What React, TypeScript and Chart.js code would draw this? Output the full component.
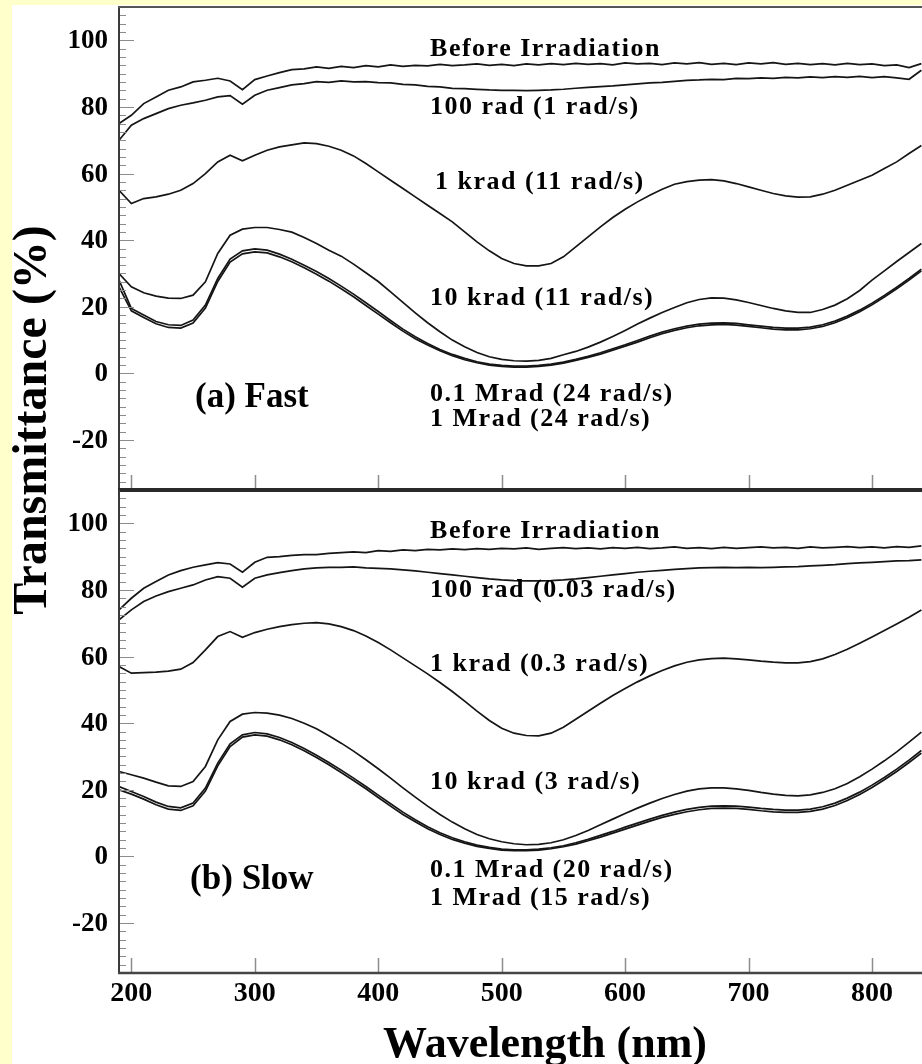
import React, { useEffect, useRef } from "react";
import { Chart, registerables } from "chart.js";

Chart.register(...registerables);

// ---------- data ----------
const WAVELENGTHS = [
  190, 200, 210, 220, 230, 240, 250, 260, 270, 280,
  290, 300, 310, 320, 330, 340, 350, 360, 370, 380,
  390, 400, 410, 420, 430, 440, 450, 460, 470, 480,
  490, 500, 510, 520, 530, 540, 550, 560, 570, 580,
  590, 600, 610, 620, 630, 640, 650, 660, 670, 680,
  690, 700, 710, 720, 730, 740, 750, 760, 770, 780,
  790, 800, 810, 820, 830, 840,
];

const FAST_BEFORE = [
  75, 77.5, 81, 83, 85, 86, 87.5, 88, 88.6, 87.8,
  85.2, 88.2, 89.3, 90.3, 91.2, 91.4, 92, 91.6, 92.2, 91.8,
  92.4, 92, 92.6, 92.2, 92.5, 92.3, 92.8, 92.4, 92.6, 92.9,
  92.5, 92.8, 92.4, 92.9, 92.6, 93, 92.7, 93.1, 92.8, 93,
  92.6, 93.2, 92.9, 93.1, 92.7, 93.2, 92.9, 93.3, 92.8, 93.1,
  92.7, 93.2, 92.9, 93.3, 92.8, 93.1, 92.7, 93, 92.6, 93.1,
  92.7, 92.9, 92.4, 92.6, 91.8, 93,
];
const FAST_100RAD = [
  70, 74.5, 76.5, 78, 79.5, 80.5, 81.2, 82, 83, 83.4,
  80.8, 83.5, 85, 85.8, 86.6, 87, 87.6, 87.4, 87.8, 87.5,
  87.6, 87.3, 87.2, 86.8, 86.6, 86.2, 86, 85.6, 85.5, 85.3,
  85.1, 85, 85, 84.9, 85, 85.1, 85.3, 85.6, 85.9, 86.1,
  86.3, 86.6, 86.9, 87.2, 87.4, 87.7, 88, 88.1, 88.3, 88.2,
  88.6, 88.5, 88.7, 88.6, 88.9, 88.7, 89, 88.8, 89.1, 88.9,
  89.2, 88.8, 89.1, 88.7, 88.3, 91,
];
const FAST_1KRAD = [
  55, 51, 52.5, 53, 53.8, 55, 57, 60, 63.5, 65.5,
  63.8, 65.5, 67, 68, 68.6, 69.2, 69, 68.2, 67, 65.3,
  63, 60.5, 58, 55.5, 53, 50.5, 48, 45.5, 42.5, 39.5,
  36.8, 34.5, 33, 32.3, 32.3, 33, 35, 38, 41, 44,
  46.8, 49.3, 51.5, 53.5, 55.3, 56.8, 57.6, 58, 58.2, 57.8,
  57, 56, 55, 54, 53.3, 52.9, 53, 53.8, 55, 56.5,
  58, 59.5, 61.5, 63.5, 66, 68.4,
];
const FAST_10KRAD = [
  30, 26, 24.2, 23.2, 22.6, 22.5, 23.5, 27.5, 36, 41.5,
  43.3, 43.8, 43.8, 43.2, 42.4, 40.8, 39, 37, 35.2, 32.8,
  30.2, 27.6, 24.5, 21.3, 18.2, 15.2, 12.5, 10, 8, 6.3,
  5, 4.2, 3.8, 3.7, 3.9, 4.5, 5.6, 6.6, 7.9, 9.4,
  11.1, 12.9, 14.8, 16.6, 18.3, 19.8, 21.2, 22.2, 22.7, 22.6,
  22.1, 21.3, 20.4, 19.5, 18.8, 18.3, 18.3, 19.2, 20.5, 22.4,
  24.9, 28, 30.8, 33.6, 36.3, 39,
];
const FAST_01MRAD = [
  28, 19.5, 17.5, 15.6, 14.6, 14.4, 16, 20.5, 28.5, 34.3,
  36.8, 37.4, 37, 35.8, 34.3, 32.5, 30.6, 28.5, 26.2, 23.8,
  21.2, 18.6, 15.9, 13.3, 11, 9, 7.2, 5.7, 4.5, 3.5,
  2.8, 2.4, 2.2, 2.2, 2.4, 2.8, 3.4, 4.2, 5.1, 6.2,
  7.4, 8.6, 9.9, 11.2, 12.4, 13.4, 14.2, 14.8, 15.1, 15.2,
  15, 14.6, 14.2, 13.8, 13.6, 13.6, 13.9, 14.6, 15.7, 17.2,
  19, 21.1, 23.4, 25.9, 28.5, 31.3,
];
const FAST_1MRAD = [
  26, 18.8, 16.8, 14.9, 13.8, 13.6, 15.1, 19.6, 27.6, 33.4,
  35.9, 36.5, 36.2, 35, 33.5, 31.7, 29.8, 27.7, 25.4, 23,
  20.4, 17.8, 15.2, 12.7, 10.4, 8.5, 6.8, 5.3, 4.1, 3.2,
  2.5, 2.1, 1.9, 1.9, 2.1, 2.5, 3.1, 3.9, 4.8, 5.8,
  7, 8.2, 9.4, 10.7, 11.9, 12.9, 13.7, 14.3, 14.6, 14.7,
  14.5, 14.1, 13.7, 13.3, 13.1, 13.1, 13.4, 14.1, 15.2, 16.7,
  18.5, 20.6, 22.9, 25.4, 28, 30.8,
];

const SLOW_BEFORE = [
  74, 77.5, 80.5, 82.5, 84.5, 85.8, 86.8, 87.5, 88.2, 87.8,
  85.3, 88.3, 89.8, 90, 90.4, 90.6, 90.6, 91, 91.2, 91.4,
  91.2, 91.8, 91.6, 92, 91.8, 92.2, 92, 92.3, 92.1, 92.4,
  92.2, 92.5, 92.3, 92.6, 92.2, 92.5, 92.7, 92.4, 92.6, 92.3,
  92.7, 92.5, 92.8, 92.4, 92.6, 92.9, 92.5, 92.7, 92.4, 92.8,
  92.5, 92.7, 92.9, 92.6, 92.8, 92.5, 92.9, 92.6, 92.8, 93,
  92.7, 92.9, 92.6, 93, 92.8, 93.2,
];
const SLOW_100RAD = [
  71, 74, 76.5, 78.2, 79.5, 80.5, 81.5, 83, 84, 83.5,
  80.8, 83.5, 84.5, 85.2, 85.8, 86.3, 86.6, 86.8, 86.8, 86.9,
  86.6, 86.5, 86.3, 86, 85.7, 85.3, 84.9, 84.5, 84.1, 83.7,
  83.3, 83, 82.8, 82.7, 82.7, 82.8, 83, 83.3, 83.7, 84.1,
  84.5, 84.9, 85.3, 85.6, 85.9, 86.2, 86.4, 86.6, 86.7, 86.8,
  86.7, 86.8, 86.7, 86.8, 86.9, 87, 87.2, 87.4, 87.6, 87.9,
  88.1, 88.3, 88.5, 88.7, 88.8, 89,
];
const SLOW_1KRAD = [
  57, 55, 55.2, 55.3, 55.6, 56.2, 58.2, 62, 66, 67.5,
  65.8, 67.2, 68.2, 69, 69.6, 70, 70.2, 69.8, 69, 67.8,
  66.2, 64.2, 62, 59.6, 57.2, 54.8, 52.2, 49.5, 46.6, 43.6,
  40.8, 38.5, 37, 36.3, 36.2, 37, 38.8, 41.2, 43.6, 46,
  48.3, 50.4, 52.4, 54.2, 55.8, 57.2, 58.3, 59, 59.4, 59.5,
  59.3, 59, 58.6, 58.3, 58.1, 58.1, 58.5, 59.3, 60.6, 62.2,
  64, 65.9, 67.8, 69.8, 71.8, 74,
];
const SLOW_10KRAD = [
  25.5, 24.5, 23.5, 22.3, 21.2, 21, 22.5, 27, 35, 40.5,
  42.7, 43.2, 43, 42.4, 41.4, 40, 38.3, 36.2, 34, 31.6,
  29, 26.3, 23.5, 20.6, 17.8, 15.1, 12.6, 10.3, 8.3, 6.6,
  5.3, 4.4, 3.8, 3.5, 3.6, 4.1, 5, 6.3, 7.8, 9.5,
  11.2, 12.9, 14.5, 16, 17.4, 18.6, 19.6, 20.3, 20.6, 20.6,
  20.3, 19.8, 19.2, 18.7, 18.3, 18.2, 18.5, 19.2, 20.3, 21.9,
  23.9, 26.2, 28.7, 31.4, 34.3, 37.3,
];
const SLOW_01MRAD = [
  21, 19.5, 18, 16.3, 15, 14.6, 16, 20.5, 28, 33.8,
  36.5, 37.2, 36.8, 35.7, 34.2, 32.4, 30.4, 28.2, 25.9, 23.5,
  21, 18.4, 15.8, 13.3, 11, 8.9, 7.1, 5.6, 4.4, 3.4,
  2.7, 2.2, 2, 2, 2.2, 2.6, 3.2, 4.1, 5.1, 6.3,
  7.5, 8.8, 10, 11.2, 12.3, 13.3, 14.1, 14.7, 15.1, 15.2,
  15.1, 14.8, 14.4, 14.1, 13.9, 13.9, 14.2, 14.9, 16, 17.5,
  19.3, 21.4, 23.7, 26.2, 28.9, 31.8,
];
const SLOW_1MRAD = [
  20, 18.7, 17.2, 15.5, 14.2, 13.8, 15.2, 19.6, 27.2, 33,
  35.8, 36.5, 36.1, 35, 33.5, 31.7, 29.7, 27.5, 25.2, 22.8,
  20.3, 17.7, 15.1, 12.6, 10.4, 8.3, 6.6, 5.1, 4, 3,
  2.4, 1.9, 1.7, 1.7, 1.9, 2.3, 2.9, 3.7, 4.7, 5.8,
  7, 8.2, 9.4, 10.6, 11.7, 12.6, 13.4, 14, 14.4, 14.5,
  14.4, 14.1, 13.7, 13.4, 13.2, 13.2, 13.5, 14.2, 15.3, 16.8,
  18.6, 20.7, 23, 25.5, 28.2, 31,
];

const FAST_LABELS = [
  "Before Irradiation",
  "100 rad (1 rad/s)",
  "1 krad (11 rad/s)",
  "10 krad (11 rad/s)",
  "0.1 Mrad (24 rad/s)",
  "1 Mrad (24 rad/s)",
];
const SLOW_LABELS = [
  "Before Irradiation",
  "100 rad (0.03 rad/s)",
  "1 krad (0.3 rad/s)",
  "10 krad (3 rad/s)",
  "0.1 Mrad (20 rad/s)",
  "1 Mrad (15 rad/s)",
];
const FAST_TAG = "(a) Fast";
const SLOW_TAG = "(b) Slow";

const Y_TICKS = [-20, 0, 20, 40, 60, 80, 100];
const X_TICKS = [200, 300, 400, 500, 600, 700, 800];
const Y_TITLE = "Transmittance (%)";
const X_TITLE = "Wavelength (nm)";

// ---------- layout / style (not data) ----------
const X_MIN = 190;
const X_MAX = 840.5;
const Y_MIN = -35;
const Y_MAX = 110;
const MINOR_STEP = 2.5;
const FONT = '"Liberation Serif", "Times New Roman", serif';
const LINE_COLOR = "#151515";

// annotation anchor points in data coordinates [wavelength, value]
const FAST_LABEL_POS = [
  [442, 97.3], [442, 79.8], [446, 57.3], [442, 22.7], [442, -6.2], [442, -13.7],
];
const SLOW_LABEL_POS = [
  [442, 97.6], [442, 79.9], [442, 57.7], [442, 22.2], [442, -4.2], [442, -12.6],
];
const FAST_TAG_POS = [251.6, -7.4];
const SLOW_TAG_POS = [247.6, -7.2];

type PanelCfg = {
  series: number[][];
  labels: string[];
  labelPos: number[][];
  tag: string;
  tagPos: number[];
  isTop: boolean;
  padding: { left: number; right: number; top: number; bottom: number };
};

function line(ctx: CanvasRenderingContext2D, x1: number, y1: number, x2: number, y2: number) {
  ctx.beginPath();
  ctx.moveTo(x1, y1);
  ctx.lineTo(x2, y2);
  ctx.stroke();
}

function makePlugin(cfg: PanelCfg) {
  return {
    id: "panelDecor",
    afterDatasetsDraw(chart: any) {
      const ctx: CanvasRenderingContext2D = chart.ctx;
      const a = chart.chartArea;
      const xs = chart.scales.x;
      const ys = chart.scales.y;
      ctx.save();

      // y ticks (inside)
      ctx.strokeStyle = "#8c8c8c";
      ctx.lineWidth = 1;
      for (let v = Y_MIN + MINOR_STEP; v < Y_MAX; v += MINOR_STEP) {
        const y = Math.round(ys.getPixelForValue(v)) + 0.5;
        const len = Y_TICKS.includes(v) ? 15 : 7;
        line(ctx, a.left, y, a.left + len, y);
      }
      // x ticks (inside, at bottom of panel)
      ctx.lineWidth = 1.5;
      for (const t of X_TICKS) {
        const x = Math.round(xs.getPixelForValue(t)) + 0.5;
        line(ctx, x, a.bottom, x, a.bottom - 15);
      }

      // frame
      ctx.strokeStyle = "#3a3a3a";
      ctx.lineWidth = 2;
      line(ctx, a.left, a.top - 1, a.left, a.bottom + 1);
      if (cfg.isTop) {
        ctx.strokeStyle = "#555";
        ctx.lineWidth = 2;
        line(ctx, a.left - 1, a.top, a.right, a.top);
        ctx.strokeStyle = "#2a2a2a";
        ctx.lineWidth = 4;
        line(ctx, a.left - 1, a.bottom, a.right, a.bottom);
      } else {
        ctx.strokeStyle = "#444";
        ctx.lineWidth = 2.5;
        line(ctx, a.left - 1, a.bottom, a.right, a.bottom);
      }

      ctx.fillStyle = "#000";
      // y tick labels
      ctx.font = `bold 27px ${FONT}`;
      ctx.textAlign = "right";
      ctx.textBaseline = "middle";
      for (const v of Y_TICKS) {
        ctx.fillText(String(v), a.left - 11, ys.getPixelForValue(v) + 1);
      }

      // curve annotations
      ctx.textAlign = "left";
      (ctx as any).letterSpacing = "1.5px";
      ctx.font = `bold 26px ${FONT}`;
      cfg.labels.forEach((txt, i) => {
        const p = cfg.labelPos[i];
        ctx.fillText(txt, xs.getPixelForValue(p[0]), ys.getPixelForValue(p[1]));
      });
      (ctx as any).letterSpacing = "0px";
      ctx.font = `bold 35px ${FONT}`;
      ctx.fillText(cfg.tag, xs.getPixelForValue(cfg.tagPos[0]), ys.getPixelForValue(cfg.tagPos[1]));

      if (cfg.isTop) {
        // y-axis title spanning both panels
        ctx.save();
        ctx.translate(22, 415);
        ctx.rotate(-Math.PI / 2);
        ctx.font = `bold 48px ${FONT}`;
        ctx.textAlign = "center";
        ctx.textBaseline = "middle";
        ctx.fillText(Y_TITLE, 0, 0);
        ctx.restore();
      } else {
        ctx.font = `bold 28px ${FONT}`;
        ctx.textAlign = "center";
        ctx.textBaseline = "middle";
        for (const t of X_TICKS) {
          ctx.fillText(String(t), xs.getPixelForValue(t), a.bottom + 21);
        }
        ctx.font = `bold 44px ${FONT}`;
        ctx.textBaseline = "alphabetic";
        ctx.fillText(X_TITLE, 533, 567);
      }
      ctx.restore();
    },
  };
}

function buildConfig(cfg: PanelCfg): any {
  return {
    type: "line",
    data: {
      datasets: cfg.series.map((s) => ({
        data: WAVELENGTHS.map((x, i) => ({ x, y: s[i] })),
        borderColor: LINE_COLOR,
        borderWidth: 1.7,
        pointRadius: 0,
        tension: 0,
        fill: false,
      })),
    },
    options: {
      responsive: false,
      animation: false,
      events: [],
      layout: { padding: cfg.padding },
      plugins: { legend: { display: false }, tooltip: { enabled: false } },
      scales: {
        x: { type: "linear", min: X_MIN, max: X_MAX, display: false },
        y: { type: "linear", min: Y_MIN, max: Y_MAX, display: false },
      },
    },
    plugins: [makePlugin(cfg)],
  };
}

export default function App() {
  const topRef = useRef<HTMLCanvasElement>(null);
  const botRef = useRef<HTMLCanvasElement>(null);

  useEffect(() => {
    const top = new Chart(
      topRef.current!,
      buildConfig({
        series: [FAST_BEFORE, FAST_100RAD, FAST_1KRAD, FAST_10KRAD, FAST_01MRAD, FAST_1MRAD],
        labels: FAST_LABELS,
        labelPos: FAST_LABEL_POS,
        tag: FAST_TAG,
        tagPos: FAST_TAG_POS,
        isTop: true,
        padding: { left: 107, right: 0, top: 2, bottom: 574 },
      })
    );
    const bot = new Chart(
      botRef.current!,
      buildConfig({
        series: [SLOW_BEFORE, SLOW_100RAD, SLOW_1KRAD, SLOW_10KRAD, SLOW_01MRAD, SLOW_1MRAD],
        labels: SLOW_LABELS,
        labelPos: SLOW_LABEL_POS,
        tag: SLOW_TAG,
        tagPos: SLOW_TAG_POS,
        isTop: false,
        padding: { left: 107, right: 0, top: 0, bottom: 91 },
      })
    );
    return () => {
      top.destroy();
      bot.destroy();
    };
  }, []);

  return (
    <div
      style={{
        position: "fixed",
        left: 0,
        top: 0,
        width: 922,
        height: 1064,
        background: "#ffffcc",
        overflow: "hidden",
      }}
    >
      <div style={{ position: "absolute", left: 12, top: 5, width: 910, height: 1059, background: "#ffffff" }}>
        <canvas
          ref={topRef}
          width={910}
          height={1059}
          style={{ position: "absolute", left: 0, top: 0, width: 910, height: 1059 }}
        />
        <canvas
          ref={botRef}
          width={910}
          height={574}
          style={{ position: "absolute", left: 0, top: 485, width: 910, height: 574 }}
        />
      </div>
    </div>
  );
}
